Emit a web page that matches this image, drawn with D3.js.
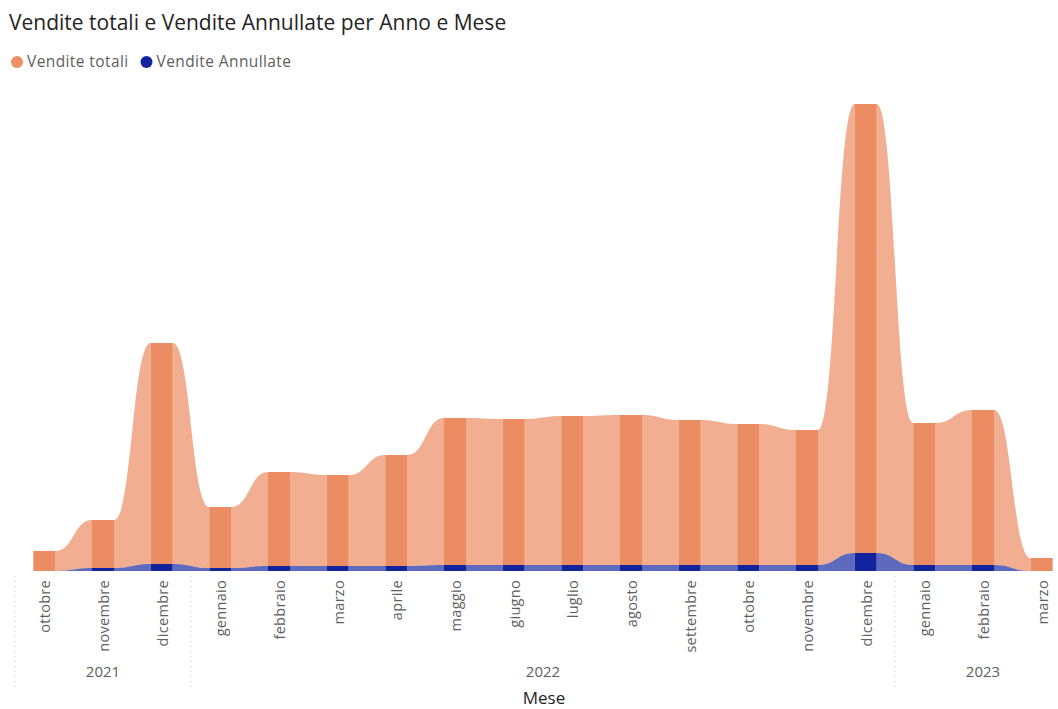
<!DOCTYPE html>
<html>
<head>
<meta charset="utf-8">
<script src="https://cdn.jsdelivr.net/npm/d3@7"></script>
<style>
  html, body { margin: 0; padding: 0; background: #fff; }
  svg { display: block; font-family: "Open Sans", "Noto Sans", sans-serif; }
</style>
</head>
<body>
<svg id="chart" width="1058" height="709"></svg>
<script>
// Monthly sales, October 2021 – March 2023 (thousands)
const months = ["ottobre", "novembre", "dicembre",
  "gennaio", "febbraio", "marzo", "aprile", "maggio", "giugno", "luglio",
  "agosto", "settembre", "ottobre", "novembre", "dicembre",
  "gennaio", "febbraio", "marzo"];
const years = ["2021", "2021", "2021",
  "2022", "2022", "2022", "2022", "2022", "2022", "2022",
  "2022", "2022", "2022", "2022", "2022",
  "2023", "2023", "2023"];
const venditeTotali = [20, 48, 221, 61, 94, 91, 111, 147, 146, 149, 150, 145, 141, 135, 449, 142, 155, 13];
const venditeAnnullate = [0, 3, 7, 3, 5, 5, 5, 6, 6, 6, 6, 6, 6, 6, 18, 6, 6, 0];
const seriesNames = ["Vendite totali", "Vendite Annullate"];

const svg = d3.select("#chart");

const rows = months.map((m, i) => ({
  i, month: m, year: years[i],
  annullate: venditeAnnullate[i], totali: venditeTotali[i]
}));

// Lower series sits at the bottom of each column, larger one on top
const stack = d3.stack().keys(["annullate", "totali"]);
const layers = stack(rows);

const x = d3.scaleBand().domain(rows.map(d => d.i)).range([15, 1071]).padding(0);
const barW = x.bandwidth() * 0.375;
const barL = i => x(i) + (x.bandwidth() - barW) / 2;
const barR = i => barL(i) + barW;

const maxTop = d3.max(layers[layers.length - 1], d => d[1]);
const y = d3.scaleLinear().domain([0, maxTop]).range([571, 104]);

const style = {
  annullate: { bar: "#12239E", barOp: 1, rib: "#12239E", ribOp: 0.68 },
  totali:    { bar: "#E66C37", barOp: 0.78, rib: "#E66C37", ribOp: 0.55 }
};

// Ribbons between adjacent columns
function ribbon(layer, i) {
  const a = layer[i], b = layer[i + 1];
  const x0 = barR(i), x1 = barL(i + 1), xm = (x0 + x1) / 2;
  const p = d3.path();
  p.moveTo(x0, y(a[1]));
  p.bezierCurveTo(xm, y(a[1]), xm, y(b[1]), x1, y(b[1]));
  p.lineTo(x1, y(b[0]));
  p.bezierCurveTo(xm, y(b[0]), xm, y(a[0]), x0, y(a[0]));
  p.closePath();
  return p.toString();
}

const plot = svg.append("g");
layers.slice().reverse().forEach(layer => {
  const st = style[layer.key];
  plot.append("g").selectAll("path")
    .data(d3.range(rows.length - 1))
    .join("path")
    .attr("d", i => ribbon(layer, i))
    .attr("fill", st.rib)
    .attr("fill-opacity", st.ribOp);
});
layers.forEach(layer => {
  const st = style[layer.key];
  plot.append("g").selectAll("rect")
    .data(layer)
    .join("rect")
    .attr("x", (d, i) => barL(i))
    .attr("width", barW)
    .attr("y", d => y(d[1]))
    .attr("height", d => Math.max(0, y(d[0]) - y(d[1])))
    .attr("fill", st.bar)
    .attr("fill-opacity", st.barOp);
});

// Month labels
const axis = svg.append("g");
axis.selectAll("text.month")
  .data(rows)
  .join("text")
  .attr("class", "month")
  .attr("transform", d => `translate(${x(d.i) + x.bandwidth() / 2 + 1},580) rotate(-90)`)
  .attr("text-anchor", "end")
  .attr("dy", "0.35em")
  .attr("font-size", 14.5)
  .attr("letter-spacing", 0.3)
  .attr("fill", "#605E5C")
  .text(d => d.month);

// Year groups with dotted separators
const groups = d3.groups(rows, d => d.year).map(([yr, ds]) => ({
  yr, x0: x(ds[0].i), x1: x(ds[ds.length - 1].i) + x.bandwidth()
}));
const seps = groups.map(g => g.x0);
axis.selectAll("line.sep")
  .data(seps)
  .join("line")
  .attr("x1", d => d).attr("x2", d => d)
  .attr("y1", 576).attr("y2", 690)
  .attr("stroke", "#C8C6C4")
  .attr("stroke-width", 1)
  .attr("stroke-dasharray", "1,4");
axis.selectAll("text.year")
  .data(groups)
  .join("text")
  .attr("class", "year")
  .attr("x", d => (d.x0 + d.x1) / 2)
  .attr("y", 677)
  .attr("text-anchor", "middle")
  .attr("font-size", 15)
  .attr("fill", "#605E5C")
  .text(d => d.yr);

svg.append("text")
  .attr("x", 544).attr("y", 704)
  .attr("text-anchor", "middle")
  .attr("font-size", 17)
  .attr("fill", "#252423")
  .text("Mese");

// Title
svg.append("text")
  .attr("x", 9).attr("y", 30)
  .attr("font-size", 21)
  .attr("fill", "#252423")
  .text("Vendite totali e Vendite Annullate per Anno e Mese");

// Legend
const legendColors = ["#EE8F64", "#12239E"];
const legend = svg.append("g").attr("transform", "translate(0,62)");
let lx = 17;
seriesNames.forEach((name, k) => {
  legend.append("circle").attr("cx", lx).attr("cy", 0).attr("r", 6).attr("fill", legendColors[k]);
  const t = legend.append("text")
    .attr("x", lx + 10).attr("y", 0).attr("dy", "0.35em")
    .attr("font-size", 15.5).attr("letter-spacing", 0.4).attr("fill", "#605E5C")
    .text(name);
  lx += 10 + t.node().getComputedTextLength() + 18;
});
</script>
</body>
</html>
